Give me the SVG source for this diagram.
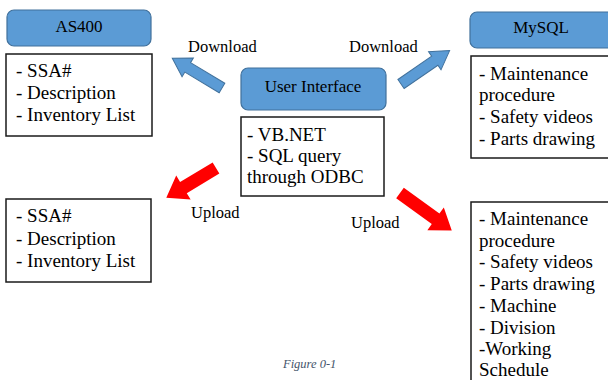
<svg xmlns="http://www.w3.org/2000/svg" width="608" height="380" viewBox="0 0 608 380">
<defs>
<style>
.hdr{fill:#5B9BD5;stroke:#41719C;stroke-width:1.2}
.box{fill:#fff;stroke:#1a1a1a;stroke-width:1.5}
.ba{fill:#5B9BD5;stroke:#41719C;stroke-width:1}
.ra{fill:#FF0000}
</style>
</defs>
<rect width="608" height="380" fill="#fff"/>

<g id="as400">
<rect class="hdr" x="7" y="10" width="144" height="36" rx="7"/>
<text x="79" y="32" font-family="Liberation Serif" font-size="17" text-anchor="middle">AS400</text>
</g>
<g id="as400-list" font-family="Liberation Serif" font-size="19">
<rect class="box" x="6" y="54" width="146" height="82"/>
<text x="16" y="77">- SSA#</text>
<text x="16" y="99">- Description</text>
<text x="16" y="121">- Inventory List</text>
</g>

<g id="ui">
<rect class="hdr" x="241" y="68" width="145" height="42" rx="7"/>
<text x="313" y="92" font-family="Liberation Serif" font-size="17" text-anchor="middle">User Interface</text>
</g>
<g id="ui-list" font-family="Liberation Serif" font-size="19">
<rect class="box" x="241" y="117" width="143" height="79"/>
<text x="247" y="141">- VB.NET</text>
<text x="247" y="162">- SQL query</text>
<text x="247" y="183">through ODBC</text>
</g>

<g id="mysql">
<rect class="hdr" x="470" y="12" width="146" height="36" rx="7"/>
<text x="541" y="33" font-family="Liberation Serif" font-size="17" text-anchor="middle">MySQL</text>
</g>
<g id="mysql-list" font-family="Liberation Serif" font-size="19">
<rect class="box" x="471" y="56" width="146" height="102"/>
<text x="479" y="80">- Maintenance</text>
<text x="479" y="101">procedure</text>
<text x="479" y="123">- Safety videos</text>
<text x="479" y="145">- Parts drawing</text>
</g>

<g id="as400-upload-list" font-family="Liberation Serif" font-size="19">
<rect class="box" x="6" y="199" width="145" height="83"/>
<text x="16" y="222">- SSA#</text>
<text x="16" y="245">- Description</text>
<text x="16" y="267">- Inventory List</text>
</g>

<g id="mysql-upload-list" font-family="Liberation Serif" font-size="19">
<rect class="box" x="471" y="202" width="146" height="190"/>
<text x="479" y="225">- Maintenance</text>
<text x="479" y="247">procedure</text>
<text x="479" y="268">- Safety videos</text>
<text x="479" y="290">- Parts drawing</text>
<text x="479" y="312">- Machine</text>
<text x="479" y="334">- Division</text>
<text x="479" y="355">-Working</text>
<text x="479" y="376">Schedule</text>
</g>

<g id="connectors">
<path class="ba" transform="translate(222,88) rotate(211)" d="M0,-5.5 L40,-5.5 L40,-11 L58,0 L40,11 L40,5.5 L0,5.5 Z"/>
<path class="ba" transform="translate(401,84) rotate(-34.5)" d="M0,-5.5 L41,-5.5 L41,-11 L59,0 L41,11 L41,5.5 L0,5.5 Z"/>
<path class="ra" transform="translate(216,168) rotate(149)" d="M0,-6.5 L38,-6.5 L38,-14 L58,0 L38,14 L38,6.5 L0,6.5 Z"/>
<path class="ra" transform="translate(400,193) rotate(36)" d="M0,-6.5 L44,-6.5 L44,-14 L64,0 L44,14 L44,6.5 L0,6.5 Z"/>
<g font-family="Liberation Serif" font-size="16.5">
<text x="188" y="52">Download</text>
<text x="349" y="52">Download</text>
<text x="191" y="218">Upload</text>
<text x="351" y="228">Upload</text>
</g>
</g>

<text x="283" y="368" font-family="Liberation Serif" font-size="12.5" font-style="italic" fill="#44546A">Figure 0-1</text>
</svg>
